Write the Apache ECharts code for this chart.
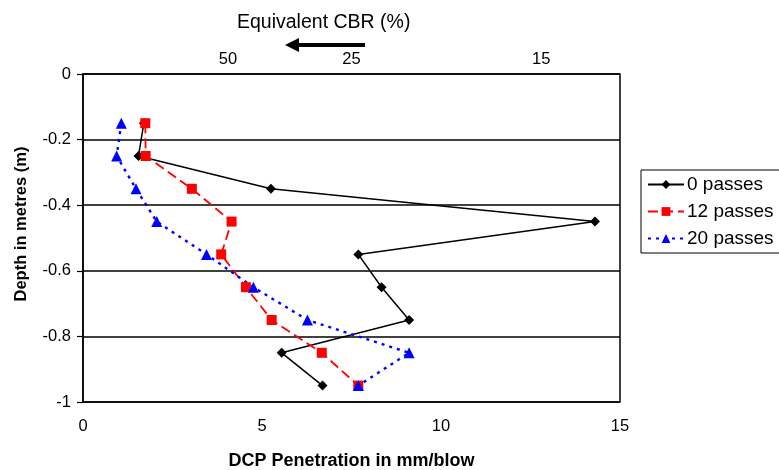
<!DOCTYPE html>
<html>
<head>
<meta charset="utf-8">
<script src="https://cdn.jsdelivr.net/npm/echarts@6/dist/echarts.min.js"></script>
<style>
  html, body { margin: 0; padding: 0; background: #fff; }
  #chart { width: 779px; height: 470px; }
</style>
</head>
<body>
<div id="chart"></div>
<script>
// Depth of each DCP reading (m)
const depths = [-0.15, -0.25, -0.35, -0.45, -0.55, -0.65, -0.75, -0.85, -0.95];
// DCP penetration rates (mm/blow) after each number of passes
const pass0 = [1.70, 1.55, 5.25, 14.30, 7.69, 8.34, 9.11, 5.55, 6.69];
const pass12 = [1.74, 1.75, 3.04, 4.15, 3.86, 4.55, 5.27, 6.67, 7.69];
const pass20 = [1.07, 0.94, 1.48, 2.06, 3.45, 4.76, 6.27, 9.11, 7.69];
// Equivalent CBR labels and the penetration rate each corresponds to
const cbrLabels = ['50', '25', '15'];
const cbrAtDcp = [4.05, 7.50, 12.80];
const xTicks = [0, 5, 10, 15];
const yTicks = [0, -0.2, -0.4, -0.6, -0.8, -1];

const FONT = '"Liberation Sans", Arial, sans-serif';
const pairs = (xs) => xs.map((x, i) => [x, depths[i]]);

const chart = echarts.init(document.getElementById('chart'), null, { renderer: 'canvas' });
chart.setOption({
  animation: false,
  backgroundColor: '#fff',
  textStyle: { fontFamily: FONT, color: '#000' },
  title: {
    text: 'Equivalent CBR (%)',
    left: 237, top: 13, padding: 0,
    textStyle: { fontFamily: FONT, fontSize: 19.5, fontWeight: 'normal', color: '#000' }
  },
  grid: {
    left: 83, top: 74, width: 537, height: 328,
    outerBoundsMode: 'none', containLabel: false,
    show: true, borderColor: '#000', borderWidth: 1.5, backgroundColor: 'transparent'
  },
  legend: {
    orient: 'vertical',
    left: 641, top: 170,
    padding: [5, 6, 5, 6],
    itemGap: 8,
    itemWidth: 36, itemHeight: 11,
    borderColor: '#000', borderWidth: 1,
    textStyle: { fontFamily: FONT, fontSize: 19, color: '#000', padding: [0, 0, 0, -2] },
    data: ['0 passes', '12 passes', '20 passes']
  },
  xAxis: [
    {
      type: 'value', position: 'bottom', min: 0, max: 15,
      axisLine: { show: false }, axisTick: { show: false }, splitLine: { show: false },
      axisLabel: {
        customValues: xTicks, margin: 16,
        fontFamily: FONT, fontSize: 16.5, color: '#000'
      },
      name: 'DCP Penetration in mm/blow',
      nameLocation: 'middle', nameGap: 50,
      nameTextStyle: { fontFamily: FONT, fontSize: 18, fontWeight: 'bold', color: '#000' }
    },
    {
      type: 'value', position: 'top', min: 0, max: 15,
      axisLine: { show: false }, axisTick: { show: false }, splitLine: { show: false },
      axisLabel: {
        customValues: cbrAtDcp, margin: 6,
        fontFamily: FONT, fontSize: 16.5, color: '#000',
        formatter: (v) => {
          const i = cbrAtDcp.findIndex(c => Math.abs(c - v) < 1e-6);
          return i >= 0 ? cbrLabels[i] : '';
        }
      }
    }
  ],
  yAxis: {
    type: 'value', min: -1, max: 0, interval: 0.2,
    axisLine: { show: true, lineStyle: { color: '#000', width: 1.5 } },
    axisTick: { show: true, length: 6, lineStyle: { color: '#000', width: 1.2 }, customValues: yTicks },
    axisLabel: {
      margin: 12, fontFamily: FONT, fontSize: 16.5, color: '#000',
      formatter: (v) => String(Math.round(v * 10) / 10)
    },
    splitLine: { show: true, lineStyle: { color: '#000', width: 1.5 } },
    name: 'Depth in metres (m)',
    nameLocation: 'middle', nameGap: 53,
    nameTextStyle: { fontFamily: FONT, fontSize: 16.5, fontWeight: 'bold', color: '#000', padding: [0, 0, 0, 28] }
  },
  series: [
    {
      name: '0 passes', type: 'line', data: pairs(pass0),
      symbol: 'diamond', symbolSize: 10,
      itemStyle: { color: '#000' },
      lineStyle: { color: '#000', width: 1.5, type: 'solid' }
    },
    {
      name: '12 passes', type: 'line', data: pairs(pass12),
      symbol: 'rect', symbolSize: 10,
      itemStyle: { color: '#ff0000' },
      lineStyle: { color: '#ff0000', width: 1.8, type: [10, 5] }
    },
    {
      name: '20 passes', type: 'line', data: pairs(pass20),
      symbol: 'triangle', symbolSize: 11,
      itemStyle: { color: '#0000ff' },
      lineStyle: { color: '#0000ff', width: 2.4, type: [3, 5] }
    }
  ],
  graphic: [
    {
      // direction arrow beneath the CBR heading
      type: 'group', left: 285, top: 38,
      children: [
        { type: 'line', shape: { x1: 10, y1: 7, x2: 80, y2: 7 }, style: { stroke: '#000', lineWidth: 4 } },
        { type: 'polygon', shape: { points: [[0, 7], [14, 0], [14, 14]] }, style: { fill: '#000' } }
      ]
    }
  ]
});
</script>
</body>
</html>
